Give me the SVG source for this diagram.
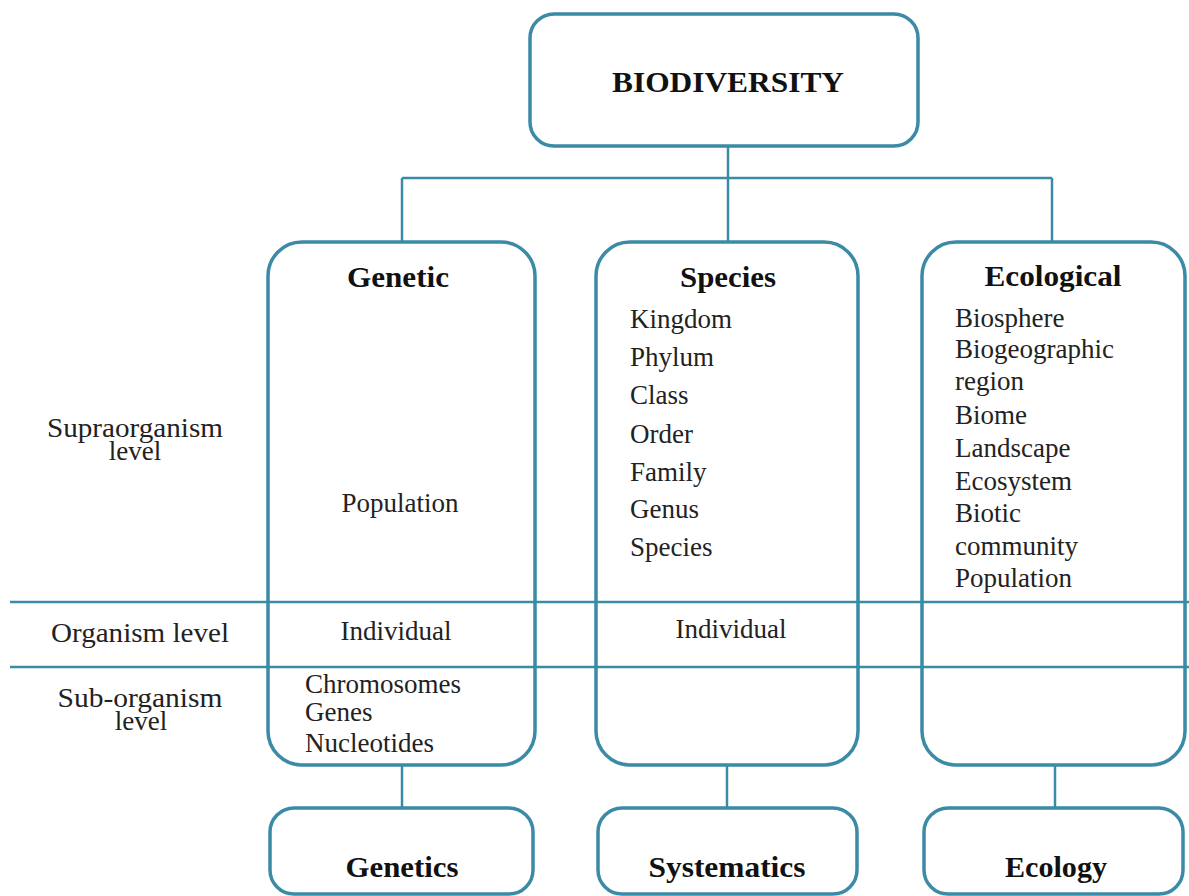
<svg xmlns="http://www.w3.org/2000/svg" width="1189" height="896" viewBox="0 0 1189 896">
<style>
.box{fill:#fff;stroke:#3b8aa6;stroke-width:3.5}
.ln{stroke:#3b8aa6;stroke-width:2.5;fill:none}
text{font-family:"Liberation Serif","Times New Roman",serif;fill:#222}
.t{font-weight:bold;font-size:30px;text-anchor:middle;fill:#111}
.b{font-size:27px}
.c{text-anchor:middle}
</style>
<rect width="1189" height="896" fill="#fff"/>
<g id="connectors">
<line class="ln" x1="728" y1="146" x2="728" y2="242"/>
<line class="ln" x1="402" y1="178" x2="1052" y2="178"/>
<line class="ln" x1="402" y1="178" x2="402" y2="242"/>
<line class="ln" x1="1052" y1="178" x2="1052" y2="242"/>
<line class="ln" x1="402" y1="765" x2="402" y2="808"/>
<line class="ln" x1="727" y1="765" x2="727" y2="808"/>
<line class="ln" x1="1055" y1="765" x2="1055" y2="808"/>
</g>
<g id="biodiversity">
<rect class="box" x="530" y="14" width="388" height="132" rx="24"/>
<text class="t" x="728" y="92" textLength="232" lengthAdjust="spacingAndGlyphs">BIODIVERSITY</text>
</g>
<g id="genetic">
<rect class="box" x="268" y="242" width="267" height="523" rx="34"/>
<text class="t" x="398" y="287" textLength="102" lengthAdjust="spacingAndGlyphs">Genetic</text>
<text class="b c" x="400" y="512">Population</text>
<text class="b c" x="396" y="640">Individual</text>
<text class="b" x="305" y="693">Chromosomes</text>
<text class="b" x="305" y="721">Genes</text>
<text class="b" x="305" y="752">Nucleotides</text>
</g>
<g id="species">
<rect class="box" x="596" y="242" width="262" height="523" rx="34"/>
<text class="t" x="728" y="287" textLength="96" lengthAdjust="spacingAndGlyphs">Species</text>
<g class="b">
<text x="630" y="328">Kingdom</text>
<text x="630" y="366">Phylum</text>
<text x="630" y="404">Class</text>
<text x="630" y="443">Order</text>
<text x="630" y="481">Family</text>
<text x="630" y="518">Genus</text>
<text x="630" y="556">Species</text>
</g>
<text class="b c" x="731" y="638">Individual</text>
</g>
<g id="ecological">
<rect class="box" x="922" y="242" width="263" height="523" rx="34"/>
<text class="t" x="1053" y="286" textLength="137" lengthAdjust="spacingAndGlyphs">Ecological</text>
<g class="b">
<text x="955" y="327">Biosphere</text>
<text x="955" y="358">Biogeographic</text>
<text x="955" y="390">region</text>
<text x="955" y="424">Biome</text>
<text x="955" y="457">Landscape</text>
<text x="955" y="490">Ecosystem</text>
<text x="955" y="522">Biotic</text>
<text x="955" y="555">community</text>
<text x="955" y="587">Population</text>
</g>
</g>
<g id="levels">
<line class="ln" x1="10" y1="602" x2="1189" y2="602"/>
<line class="ln" x1="10" y1="667" x2="1189" y2="667"/>
<text class="b c" x="135" y="437" textLength="176" lengthAdjust="spacingAndGlyphs">Supraorganism</text>
<text class="b c" x="135" y="460">level</text>
<text class="b c" x="140" y="642" textLength="178" lengthAdjust="spacingAndGlyphs">Organism level</text>
<text class="b c" x="140" y="707" textLength="165" lengthAdjust="spacingAndGlyphs">Sub-organism</text>
<text class="b c" x="141" y="730">level</text>
</g>
<g id="genetics">
<rect class="box" x="270" y="808" width="263" height="86" rx="24"/>
<text class="t" x="402" y="877" textLength="113" lengthAdjust="spacingAndGlyphs">Genetics</text>
</g>
<g id="systematics">
<rect class="box" x="598" y="808" width="259" height="86" rx="24"/>
<text class="t" x="727" y="877" textLength="157" lengthAdjust="spacingAndGlyphs">Systematics</text>
</g>
<g id="ecology">
<rect class="box" x="924" y="808" width="259" height="86" rx="24"/>
<text class="t" x="1056" y="877" textLength="102" lengthAdjust="spacingAndGlyphs">Ecology</text>
</g>
</svg>
